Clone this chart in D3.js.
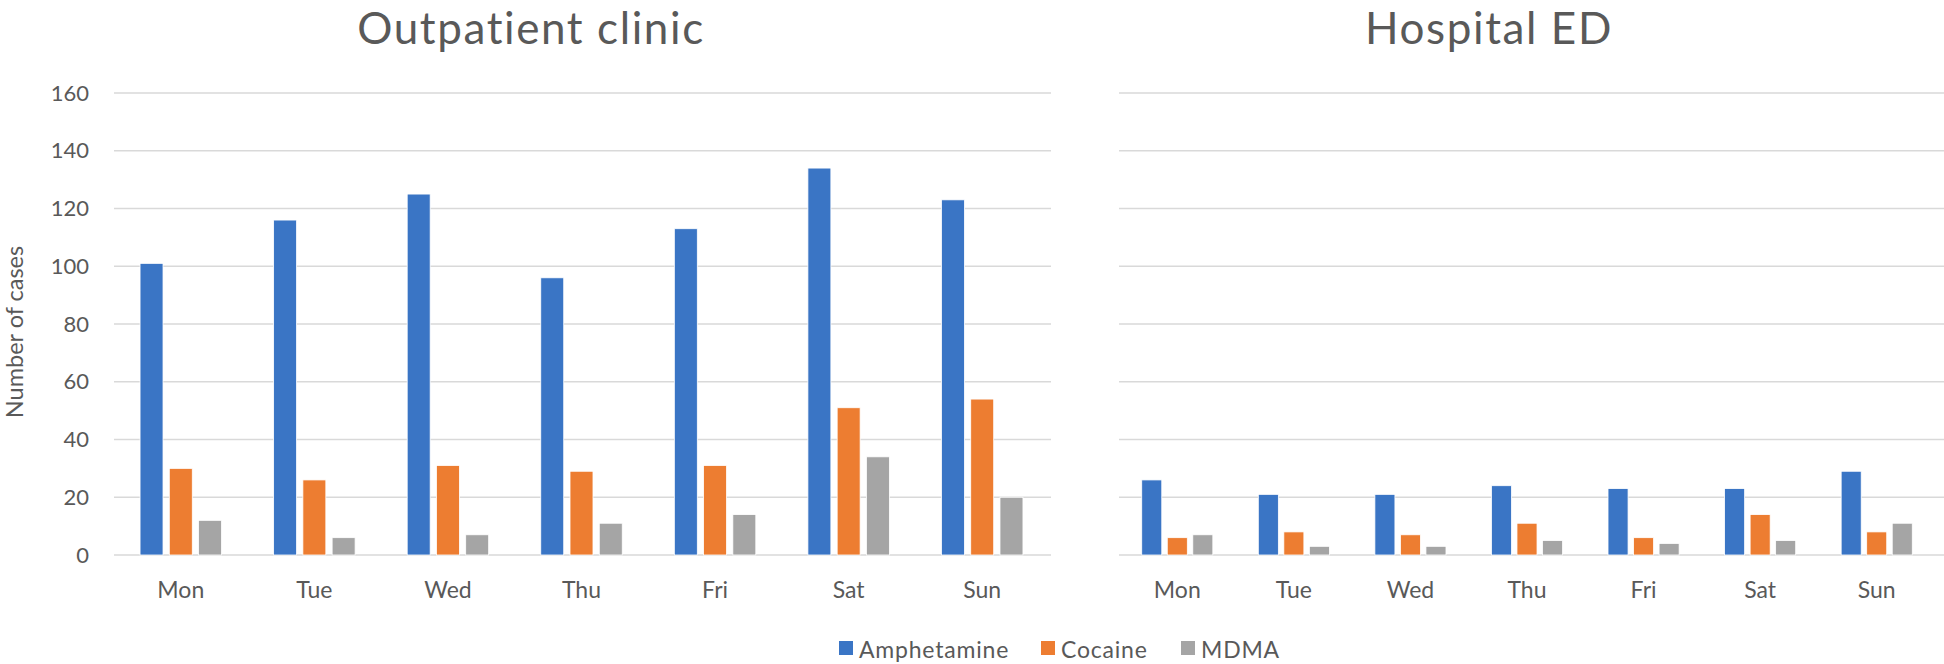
<!DOCTYPE html>
<html>
<head>
<meta charset="utf-8">
<script src="https://cdn.jsdelivr.net/npm/d3@7"></script>
<style>
  html, body { margin: 0; padding: 0; background: #fff; }
  svg { display: block; }
  text { font-family: Lato, "Open Sans", sans-serif; fill: #595959; }
</style>
</head>
<body>
<svg id="chart" width="1944" height="664"></svg>
<script>
// ---- data ----
const days = ["Mon", "Tue", "Wed", "Thu", "Fri", "Sat", "Sun"];
const series = ["Amphetamine", "Cocaine", "MDMA"];
const colors = ["#3A75C5", "#ED7D31", "#A5A5A5"];
const yTicks = [0, 20, 40, 60, 80, 100, 120, 140, 160];

const outpatientAmphetamine = [101, 116, 125, 96, 113, 134, 123];
const outpatientCocaine     = [30, 26, 31, 29, 31, 51, 54];
const outpatientMDMA        = [12, 6, 7, 11, 14, 34, 20];

const edAmphetamine = [26, 21, 21, 24, 23, 23, 29];
const edCocaine     = [6, 8, 7, 11, 6, 14, 8];
const edMDMA        = [7, 3, 3, 5, 4, 5, 11];

const panels = [
  { title: "Outpatient clinic", values: [outpatientAmphetamine, outpatientCocaine, outpatientMDMA] },
  { title: "Hospital ED", values: [edAmphetamine, edCocaine, edMDMA] }
];

// ---- layout ----
const svg = d3.select("#chart");
const y = d3.scaleLinear().domain([0, 160]).range([555, 93]);

const layout = [
  { x0: 114, x1: 1049, gridEnd: 1051, titleX: 531, showY: true },
  { x0: 1119, x1: 1935, gridEnd: 1944, titleX: 1489, showY: false }
];

panels.forEach((p, pi) => {
  const L = layout[pi];
  const g = svg.append("g");
  const x = d3.scaleBand().domain(days).range([L.x0, L.x1]).padding(0);
  const band = x.bandwidth();
  const step = 0.219 * band, bw = 0.172 * band;
  const groupW = 2 * step + bw;
  const xs = d3.scaleBand().domain(series).range([0, groupW])
    .paddingInner((step - bw) / step).paddingOuter(0);

  // gridlines
  g.selectAll("line.grid").data(yTicks).join("line")
    .attr("class", "grid")
    .attr("x1", L.x0).attr("x2", L.gridEnd)
    .attr("y1", d => y(d)).attr("y2", d => y(d))
    .attr("stroke", "#D9D9D9").attr("stroke-width", 1.6);

  // y axis labels
  if (L.showY) {
    const ya = d3.axisLeft(y).tickValues(yTicks).tickSize(0).tickPadding(0);
    const ag = g.append("g").attr("transform", `translate(89,0)`).call(ya);
    ag.select(".domain").remove();
    ag.selectAll("text").attr("font-size", 22).style("fill", "#595959")
      .attr("font-family", "Lato, sans-serif");

    g.append("text")
      .attr("transform", `translate(14,332) rotate(-90)`)
      .attr("text-anchor", "middle").attr("dominant-baseline", "central")
      .attr("font-size", 23.5)
      .text("Number of cases");
  }

  // bars
  series.forEach((s, si) => {
    g.selectAll(`rect.s${si}`).data(days).join("rect")
      .attr("class", `s${si}`)
      .attr("x", d => x(d) + (band - groupW) / 2 + xs(s))
      .attr("width", xs.bandwidth())
      .attr("y", (d, i) => y(p.values[si][i]))
      .attr("height", (d, i) => y(0) - y(p.values[si][i]))
      .attr("fill", colors[si])
      .attr("stroke", "#fff").attr("stroke-width", 0.8);
  });

  // x axis labels
  const xa = d3.axisBottom(x).tickSize(0).tickPadding(0);
  const xg = g.append("g").attr("transform", `translate(0,590)`).call(xa);
  xg.select(".domain").remove();
  xg.selectAll("text").attr("font-size", 23).attr("dy", "0.35em")
    .style("fill", "#595959").attr("font-family", "Lato, sans-serif");

  // title
  g.append("text")
    .attr("x", L.titleX).attr("y", 44)
    .attr("text-anchor", "middle")
    .attr("font-size", 44)
    .attr("letter-spacing", 1.6)
    .text(p.title);
});

// legend
const legendX = [839, 1041, 1181];
const lg = svg.append("g");
series.forEach((s, i) => {
  lg.append("rect").attr("x", legendX[i]).attr("y", 641).attr("width", 14).attr("height", 14)
    .attr("fill", colors[i]);
  lg.append("text").attr("x", legendX[i] + 20).attr("y", 649)
    .attr("dominant-baseline", "central").attr("font-size", 23)
    .attr("letter-spacing", 0.8)
    .text(s);
});
</script>
</body>
</html>
